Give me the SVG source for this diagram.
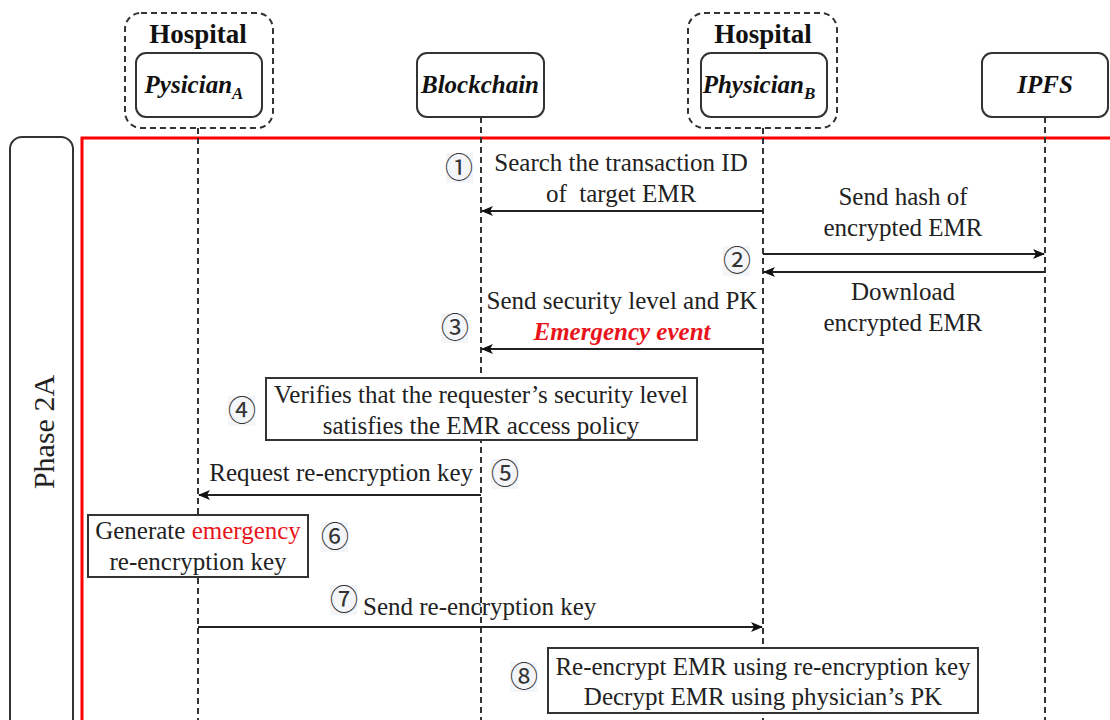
<svg xmlns="http://www.w3.org/2000/svg" width="1110" height="720" viewBox="0 0 1110 720">
<defs>
<style>
.t{font-family:"Liberation Serif","Times New Roman",serif;font-size:25px;fill:#222;text-anchor:middle;white-space:pre}
.hd{font-family:"Liberation Serif",serif;font-size:27px;font-weight:bold;fill:#111;text-anchor:middle}
.nm{font-family:"Liberation Serif",serif;font-size:25px;font-weight:bold;font-style:italic;fill:#111;text-anchor:middle}
.c{font-family:"Noto Sans CJK KR","DejaVu Sans",sans-serif;font-size:28px;fill:#333;text-anchor:middle}
.cb{fill:#f3f5f8}
.node{fill:#fff;stroke:#333;stroke-width:2}
.grp{fill:none;stroke:#333;stroke-width:2;stroke-dasharray:6 4}
.life{stroke:#333;stroke-width:2;stroke-dasharray:6 4;fill:none}
.msg{stroke:#222;stroke-width:2;fill:none}
.act{fill:#fff;stroke:#333;stroke-width:2}
.red{fill:#e8141b}
</style>
<marker id="ah" markerWidth="12" markerHeight="10" refX="11" refY="5" orient="auto" markerUnits="userSpaceOnUse">
<path d="M0,0 L12,5 L0,10 L3,5 z" fill="#111"/>
</marker>
</defs>
<rect width="1110" height="720" fill="#fff"/>

<g id="phase-frame">
<rect x="82" y="138" width="1040" height="600" fill="none" stroke="#f00" stroke-width="3"/>
</g>
<g id="phase-label">
<rect x="10" y="137" width="63" height="600" rx="12" fill="none" stroke="#333" stroke-width="2"/>
<text class="t" transform="translate(54,432) rotate(-90)" style="font-size:30px">Phase 2A</text>
</g>

<g id="lifelines">
<line class="life" x1="198" y1="128" x2="198" y2="720"/>
<line class="life" x1="481" y1="117" x2="481" y2="720"/>
<line class="life" x1="763" y1="128" x2="763" y2="720"/>
<line class="life" x1="1045" y1="117" x2="1045" y2="720"/>
</g>

<g id="hospitalA">
<rect class="grp" x="125" y="13" width="148" height="115" rx="16"/>
<text class="hd" x="198" y="43">Hospital</text>
</g>
<g id="physicianA">
<rect class="node" x="136" y="53" width="126" height="64" rx="10"/>
<text class="nm" x="194" y="93">Pysician<tspan dy="6" font-size="17">A</tspan></text>
</g>
<g id="blockchain">
<rect class="node" x="417" y="53" width="127" height="64" rx="10"/>
<text class="nm" x="480" y="93">Blockchain</text>
</g>
<g id="hospitalB">
<rect class="grp" x="688" y="13" width="149" height="115" rx="16"/>
<text class="hd" x="763" y="43">Hospital</text>
</g>
<g id="physicianB">
<rect class="node" x="701" y="53" width="126" height="64" rx="10"/>
<text class="nm" x="759" y="93">Physician<tspan dy="6" font-size="17">B</tspan></text>
</g>
<g id="ipfs">
<rect class="node" x="982" y="53" width="126" height="64" rx="10"/>
<text class="nm" x="1045" y="93">IPFS</text>
</g>

<g id="connectors">
<line class="msg" x1="763" y1="211" x2="482" y2="211" marker-end="url(#ah)"/>
<line class="msg" x1="763" y1="254" x2="1044" y2="254" marker-end="url(#ah)"/>
<line class="msg" x1="1045" y1="272" x2="764" y2="272" marker-end="url(#ah)"/>
<line class="msg" x1="763" y1="349" x2="482" y2="349" marker-end="url(#ah)"/>
<line class="msg" x1="481" y1="495" x2="199" y2="495" marker-end="url(#ah)"/>
<line class="msg" x1="198" y1="627" x2="762" y2="627" marker-end="url(#ah)"/>
</g>

<g id="labels">
<rect class="cb" x="446" y="153" width="27" height="30"/>
<text class="c" x="459" y="178">①</text>
<text class="t" x="621" y="171">Search the transaction ID</text>
<text class="t" x="621" y="202">of  target EMR</text>
<text class="t" x="903" y="205">Send hash of</text>
<text class="t" x="903" y="236">encrypted EMR</text>
<rect class="cb" x="723" y="246" width="27" height="30"/>
<text class="c" x="737" y="271">②</text>
<text class="t" x="903" y="300">Download</text>
<text class="t" x="903" y="331">encrypted EMR</text>
<text class="t" x="622" y="309">Send security level and PK</text>
<text class="t red" x="622" y="340" style="font-weight:bold;font-style:italic">Emergency event</text>
<rect class="cb" x="441" y="313" width="27" height="30"/>
<text class="c" x="455" y="338">③</text>
<text class="t" x="473" y="481" style="text-anchor:end">Request re-encryption key</text>
<rect class="cb" x="491" y="459" width="27" height="30"/>
<text class="c" x="505" y="484">⑤</text>
<rect class="cb" x="330" y="585" width="27" height="30"/>
<text class="c" x="344" y="610">⑦</text>
<text class="t" x="363" y="615" style="text-anchor:start">Send re-encryption key</text>
</g>

<g id="step4">
<rect class="act" x="266" y="378" width="431" height="62"/>
<text class="t" x="481" y="403">Verifies that the requester’s security level</text>
<text class="t" x="481" y="434">satisfies the EMR access policy</text>
<rect class="cb" x="228" y="396" width="27" height="30"/>
<text class="c" x="242" y="421">④</text>
</g>
<g id="step6">
<rect class="act" x="88" y="515" width="220" height="62"/>
<text class="t" x="198" y="539">Generate <tspan class="red">emergency</tspan></text>
<text class="t" x="198" y="570">re-encryption key</text>
<rect class="cb" x="321" y="522" width="27" height="30"/>
<text class="c" x="335" y="547">⑥</text>
</g>
<g id="step8">
<rect class="act" x="548" y="648" width="430" height="65"/>
<text class="t" x="763" y="675">Re-encrypt EMR using re-encryption key</text>
<text class="t" x="763" y="705">Decrypt EMR using physician’s PK</text>
<rect class="cb" x="510" y="662" width="27" height="30"/>
<text class="c" x="524" y="687">⑧</text>
</g>
</svg>
